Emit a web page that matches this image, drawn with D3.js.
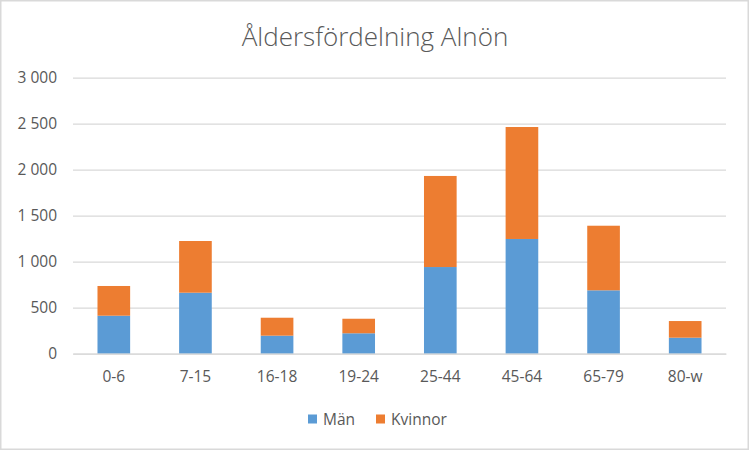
<!DOCTYPE html>
<html><head><meta charset="utf-8">
<script src="https://cdn.jsdelivr.net/npm/d3@7"></script>
<style>body{margin:0;background:#fff}svg{display:block}text{font-family:"Open Sans","Noto Sans",sans-serif}</style>
</head><body>
<svg id="c" width="750" height="451"></svg>
<script>
const categories = ["0-6","7-15","16-18","19-24","25-44","45-64","65-79","80-w"];
const man = [413, 663, 196, 222, 942, 1247, 689, 174];
const kvinnor = [323, 562, 195, 158, 990, 1217, 702, 181];
const seriesNames = ["Män","Kvinnor"];
const colors = ["#5B9BD5","#ED7D31"];
const yTicks = [0,500,1000,1500,2000,2500,3000];

const svg = d3.select("#c");
svg.append("rect").attr("x",0.75).attr("y",0.75).attr("width",747.5).attr("height",448.5)
  .attr("fill","#fff").attr("stroke","#D9D9D9").attr("stroke-width",1.5);

const m = {l:73, r:726, t:77.7, b:353.7};
const x = d3.scaleBand().domain(categories).range([m.l,m.r]).paddingInner(0.6).paddingOuter(0.3);
const y = d3.scaleLinear().domain([0,3000]).range([m.b,m.t]);
const fmt = v => d3.format(",")(v).replace(/,/g," ");

const yAxis = d3.axisLeft(y).tickValues(yTicks).tickSize(-(m.r-m.l)).tickFormat(fmt).tickPadding(16);
const gy = svg.append("g").attr("transform",`translate(${m.l},0)`).call(yAxis);
gy.select(".domain").remove();
gy.selectAll("line").attr("stroke","#D9D9D9").attr("stroke-width",1.3);
gy.selectAll("text").attr("fill","#595959").style("font-size","15.5px");

const data = categories.map((c,i)=>({cat:c, "Män":man[i], "Kvinnor":kvinnor[i]}));
const stack = d3.stack().keys(seriesNames)(data);
svg.append("g").selectAll("g").data(stack).join("g").attr("fill",(d,i)=>colors[i])
  .selectAll("rect").data(d=>d).join("rect")
  .attr("x",d=>x(d.data.cat)).attr("width",x.bandwidth())
  .attr("y",d=>y(d[1])).attr("height",d=>y(d[0])-y(d[1]));

const xAxis = d3.axisBottom(x).tickSize(0).tickPadding(17);
const gx = svg.append("g").attr("transform",`translate(0,${m.b})`).call(xAxis);
gx.select(".domain").attr("stroke","#D9D9D9").attr("stroke-width",1.3);
gx.selectAll("text").attr("fill","#595959").style("font-size","15.5px");

svg.append("text").attr("x",375).attr("y",46).attr("text-anchor","middle")
  .attr("fill","#595959").style("font-size","26px").style("font-weight","300").text("Åldersfördelning Alnön");

const leg = [{x:308,name:seriesNames[0],c:colors[0]},{x:376,name:seriesNames[1],c:colors[1]}];
const lg = svg.append("g");
leg.forEach(l=>{
  lg.append("rect").attr("x",l.x).attr("y",414.5).attr("width",9).attr("height",9).attr("fill",l.c);
  lg.append("text").attr("x",l.x+15).attr("y",425).attr("fill","#595959").style("font-size","15.5px").text(l.name);
});
</script>
</body></html>
